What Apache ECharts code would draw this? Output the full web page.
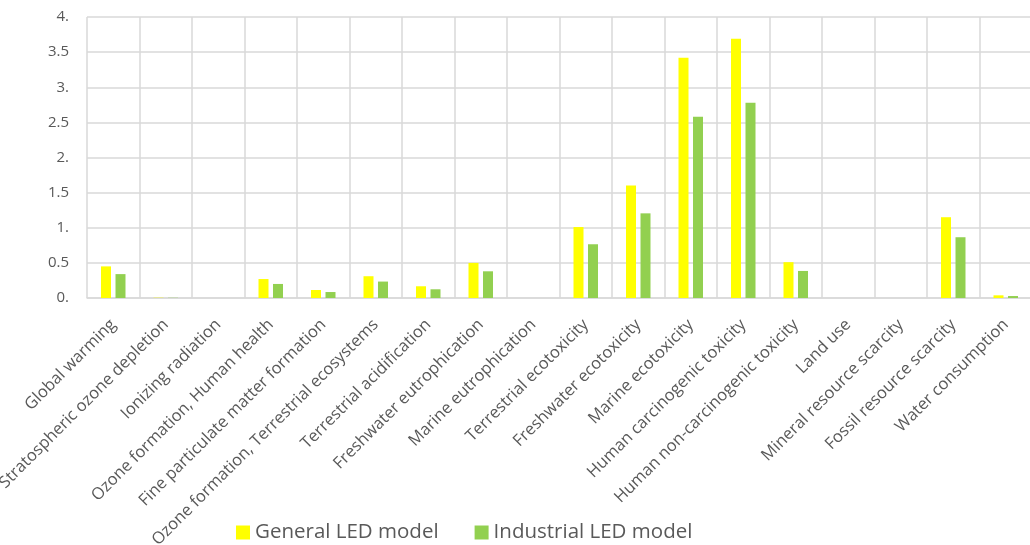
<!DOCTYPE html>
<html><head><meta charset="utf-8">
<script src="https://cdn.jsdelivr.net/npm/echarts@6/dist/echarts.min.js"></script>
<style>html,body{margin:0;padding:0;background:#fff}#c{width:1030px;height:545px}</style>
</head><body><div id="c"></div>
<script>
const categories = ["Global warming","Stratospheric ozone depletion","Ionizing radiation","Ozone formation, Human health","Fine particulate matter formation","Ozone formation, Terrestrial ecosystems","Terrestrial acidification","Freshwater eutrophication","Marine eutrophication","Terrestrial ecotoxicity","Freshwater ecotoxicity","Marine ecotoxicity","Human carcinogenic toxicity","Human non-carcinogenic toxicity","Land use","Mineral resource scarcity","Fossil resource scarcity","Water consumption"];
const generalLED = [0.45,0.004,0,0.27,0.114,0.31,0.167,0.5,0,1.01,1.6,3.42,3.69,0.51,0,0,1.15,0.038];
const industrialLED = [0.34,0.003,0,0.2,0.085,0.234,0.124,0.38,0,0.765,1.205,2.58,2.78,0.385,0,0,0.865,0.028];
const seriesNames = ["General LED model","Industrial LED model"];
const yTicks = {min:0, max:4, interval:0.5};

const chart = echarts.init(document.getElementById('c'));
const font = "'Open Sans', sans-serif";
chart.setOption({
  animation:false,
  grid:{left:87,right:-2,top:17,bottom:247,containLabel:false,outerBoundsMode:'none'},
  legend:{top:517,left:231,itemWidth:14,itemHeight:14,itemGap:36,icon:'rect',
    textStyle:{fontFamily:font,fontSize:20.5,color:'#595959'},data:seriesNames},
  xAxis:{type:'category',data:categories,
    axisLine:{lineStyle:{color:'#d9d9d9',width:1.5}},
    axisTick:{show:false},
    splitLine:{show:true,lineStyle:{color:'#d9d9d9',width:1.5}},
    axisLabel:{rotate:45,interval:0,fontFamily:font,fontSize:16.5,color:'#595959',margin:24}},
  yAxis:{type:'value',min:yTicks.min,max:yTicks.max,interval:yTicks.interval,
    axisLine:{show:false},axisTick:{show:false},
    splitLine:{lineStyle:{color:'#d9d9d9',width:1.5}},
    axisLabel:{fontFamily:font,fontSize:15,color:'#595959',margin:18,
      formatter:v=>Number.isInteger(v)?v+'.':String(v)}},
  series:[
    {name:seriesNames[0],type:'bar',data:generalLED,barWidth:10,barGap:'45%',itemStyle:{color:'#ffff00'}},
    {name:seriesNames[1],type:'bar',data:industrialLED,barWidth:10,itemStyle:{color:'#92d050'}}
  ]
});
</script></body></html>
